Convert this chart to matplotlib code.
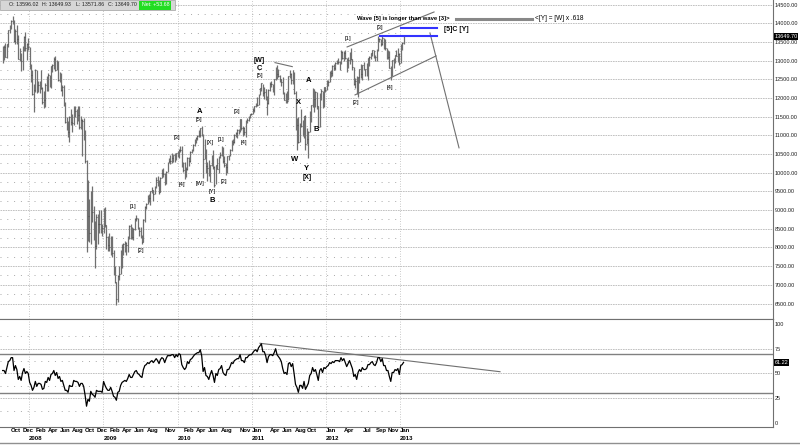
import matplotlib
matplotlib.use('Agg')
import matplotlib.pyplot as plt
import matplotlib.dates as mdates
from matplotlib.patches import Rectangle
from matplotlib.lines import Line2D
import numpy as np
import pandas as pd

plt.rcParams['font.family'] = ['Liberation Sans', 'DejaVu Sans']

# weekly bars (Friday), Aug 2007 - Jan 2013
weeks = pd.date_range('2007-08-24', '2013-01-18', freq='W-FRI')

high = [
    # 2007
    13400, 13420, 13480, 13460, 13830, 13950, 14100, 14198, 14100, 13850, 13950, 13700, 13350, 13210, 13400, 13650, 13760, 13470, 13600,
    # 2008
    13370, 12900, 12750, 12380, 12770, 12740, 12450, 12450, 12760, 12290, 12180, 12400, 12600, 12660, 12630, 12870, 12900,
    13100, 13140, 13030, 13000, 12700, 12680, 12350, 12350, 11890, 11490, 11390, 11520, 11700, 11580, 11780, 11800, 11720, 11790,
    11790, 11520, 11430, 11460, 11150, 10330, 9800, 9300, 9500, 9650, 9100, 8700, 8900, 8900, 9000, 9000, 8620,
    # 2009
    9050, 9090, 8600, 8300, 8380, 8300, 8310, 7930, 7500, 7070, 7250, 7500, 7930, 8080, 8110, 8180, 8140, 8300, 8610, 8630,
    8550, 8520, 8800, 8880, 8800, 8560, 8560, 8340, 8760, 9110, 9200, 9400, 9420, 9520, 9630, 9550, 9640, 9880, 9920, 9800,
    9880, 10100, 10120, 10000, 10050, 10300, 10400, 10480, 10520, 10480, 10520, 10530, 10590,
    # 2010
    10630, 10730, 10730, 10300, 10300, 10150, 10420, 10420, 10570, 10650, 10780, 10900, 10950, 11000, 11150, 11210, 11258,
    11030, 10900, 10640, 10300, 10350, 10220, 10480, 10600, 10170, 10200, 10400, 10440, 10550, 10720, 10700, 10440, 10250,
    10450, 10480, 10630, 10880, 10900, 11030, 11100, 11160, 11180, 11450, 11450, 11250, 11220, 11400, 11460, 11520, 11580, 11610,
    # 2011
    11740, 11800, 11880, 12020, 12100, 12280, 12400, 12390, 12290, 12230, 12050, 12230, 12420, 12450, 12390, 12520, 12820,
    12876, 12790, 12620, 12520, 12570, 12160, 12130, 12200, 12600, 12753, 12660, 12750, 12690, 12200, 11480, 11500, 11320,
    11720, 11400, 11520, 11540, 11200, 11130, 11650, 11810, 12280, 12230, 12180, 12170, 11800, 12130, 12230, 12200, 12300, 12300,
    # 2012
    12480, 12480, 12730, 12750, 12880, 12900, 12960, 13010, 13060, 12990, 13290, 13250, 13260, 13300, 13060, 13100, 13240,
    13338, 13040, 12840, 12530, 12580, 12560, 12770, 12900, 12890, 12970, 12790, 12950, 13080, 13120, 13210, 13300, 13290,
    13160, 13320, 13653, 13610, 13590, 13661, 13610, 13590, 13350, 13290, 13250, 12850, 13010, 13080, 13160, 13290, 13350, 13200,
    # 2013
    13450, 13500, 13650,
]

low = [
    12950, 13030, 13100, 13080, 13380, 13740, 13850, 13980, 13500, 13460, 13450, 13040, 12980, 12720, 12740, 13250, 13250, 13030, 13300,
    12780, 12440, 12080, 11630, 12150, 12130, 12170, 12140, 12250, 11850, 11730, 11760, 12200, 12200, 12300, 12270, 12700,
    12790, 12720, 12740, 12450, 12420, 12200, 12060, 11800, 11330, 11150, 10960, 10830, 11270, 11080, 11280, 11500, 11300, 11380,
    11180, 11170, 10460, 10880, 10270, 7880, 8180, 8150, 8100, 8690, 8200, 7450, 7960, 8100, 8400, 8400, 8300,
    8400, 8560, 7950, 7900, 7900, 7800, 7750, 7250, 7040, 6470, 6540, 7140, 7280, 7450, 7790, 7880, 7800, 7890, 8220, 8220,
    8240, 8210, 8480, 8700, 8490, 8300, 8260, 8090, 8150, 8690, 9020, 9160, 9230, 9130, 9470, 9250, 9420, 9600, 9650, 9430,
    9480, 9860, 9900, 9680, 9700, 10020, 10250, 10230, 10270, 10280, 10300, 10330, 10420,
    10400, 10560, 10150, 10030, 9830, 9900, 10080, 10180, 10300, 10520, 10580, 10710, 10810, 10880, 10970, 10950, 10990,
    9870, 10380, 10000, 9770, 9920, 9760, 10190, 10100, 9620, 9690, 10090, 9990, 10390, 10460, 10250, 10150, 9940,
    10000, 10330, 10450, 10580, 10750, 10800, 10950, 10930, 11050, 11100, 11150, 10980, 11000, 10970, 11320, 11390, 11460, 11540,
    11580, 11630, 11750, 11800, 11820, 12070, 12200, 12060, 11980, 11940, 11560, 11850, 12190, 12310, 12150, 12090, 12480,
    12500, 12570, 12440, 12330, 12110, 11940, 11860, 11880, 11940, 12550, 12380, 12380, 12110, 11140, 10600, 10800, 10820,
    11230, 10990, 10930, 10600, 10760, 10400, 11100, 11350, 11760, 11640, 11760, 11700, 11230, 11230, 11950, 11740, 11770, 12150,
    12220, 12320, 12420, 12560, 12580, 12740, 12740, 12920, 12920, 12740, 12910, 13050, 13000, 13040, 12710, 12800, 12920,
    13030, 12750, 12360, 12280, 12100, 12035, 12400, 12540, 12490, 12750, 12580, 12600, 12490, 12850, 13050, 13140, 13060,
    12990, 13000, 13250, 13500, 13400, 13420, 13320, 13300, 13050, 13050, 12800, 12471, 12590, 12800, 12940, 13120, 12960, 12880,
    12940, 13300, 13460,
]

close = [
    13378, 13358, 13113, 13442, 13820, 13896, 14066, 14093, 13522, 13806, 13595, 13042, 13176, 12980, 13372, 13625, 13339, 13450, 13366,
    12800, 12606, 12099, 12207, 12743, 12183, 12348, 12381, 12266, 11894, 11951, 12361, 12216, 12609, 12325, 12849, 12891,
    13058, 12745, 12986, 12480, 12638, 12209, 12307, 11843, 11347, 11288, 11100, 11496, 11370, 11326, 11734, 11659, 11628, 11543,
    11220, 11421, 11388, 11143, 10325, 8451, 8852, 8378, 9325, 8943, 8497, 8046, 8829, 8635, 8629, 8579, 8515,
    9034, 8599, 8281, 8077, 8001, 8280, 7850, 7366, 7063, 6627, 7224, 7279, 7776, 8018, 8083, 8131, 8076, 8212, 8575, 8268,
    8277, 8500, 8764, 8799, 8539, 8438, 8280, 8146, 8743, 9093, 9172, 9370, 9321, 9506, 9544, 9441, 9605, 9820, 9665, 9488,
    9865, 9996, 9972, 9713, 10023, 10270, 10319, 10310, 10389, 10471, 10329, 10520, 10428,
    10618, 10610, 10172, 10067, 10012, 10099, 10402, 10325, 10566, 10625, 10742, 10851, 10927, 10997, 11019, 11204, 11009,
    10380, 10620, 10193, 10137, 9931, 10212, 10450, 10144, 9686, 10198, 10098, 10425, 10466, 10653, 10303, 10214, 10150,
    10448, 10462, 10607, 10860, 10830, 11006, 11062, 11133, 11118, 11444, 11192, 11204, 11092, 11382, 11410, 11491, 11573, 11578,
    11675, 11787, 11871, 11824, 12092, 12273, 12391, 12130, 12169, 12044, 11859, 12221, 12376, 12380, 12342, 12505, 12811,
    12638, 12596, 12512, 12442, 12151, 11952, 12004, 11934, 12583, 12657, 12480, 12681, 12143, 11445, 11269, 10818, 11285,
    11240, 10992, 11509, 10771, 10913, 11103, 11644, 11809, 12231, 11983, 12153, 11796, 11231, 12019, 12184, 11866, 12294, 12218,
    12360, 12422, 12720, 12660, 12862, 12801, 12950, 12983, 12977, 12922, 13233, 13081, 13212, 13060, 12850, 13029, 13228,
    13038, 12821, 12369, 12454, 12119, 12554, 12767, 12640, 12880, 12772, 12777, 12822, 13075, 13096, 13207, 13275, 13158,
    13090, 13306, 13593, 13579, 13437, 13610, 13328, 13344, 13107, 13093, 12815, 12588, 13010, 13026, 13155, 13135, 13190, 12938,
    13435, 13488, 13649.70,
]

rsi = [
    53, 53, 50, 56, 62, 63, 66, 66, 53, 58, 54, 44, 47, 43, 51, 55, 50, 52, 50,
    41, 38, 33, 36, 42, 37, 40, 40, 39, 34, 35, 42, 41, 46, 43, 49, 50, 53, 48, 51, 45, 47, 42, 43, 38, 33,
    33, 31, 38, 37, 37, 43, 42, 42, 41, 37, 40, 40, 37, 28, 17, 24, 22, 32, 29, 28, 26, 33, 32, 32, 32, 31,
    42, 38, 35, 33, 33, 36, 32, 27, 26, 23, 31, 32, 38, 41, 42, 43, 42, 45, 49, 46, 46, 49, 52, 53, 50, 49,
    47, 46, 54, 58, 59, 61, 60, 62, 63, 61, 63, 65, 63, 60, 64, 66, 65, 61, 65, 68, 68, 68, 69, 69, 66, 69, 67,
    70, 69, 59, 56, 54, 56, 62, 60, 64, 65, 67, 69, 70, 71, 71, 74, 68, 52, 56, 48, 47, 44, 49, 53, 48,
    41, 50, 48, 54, 55, 58, 51, 49, 48, 54, 54, 57, 61, 60, 63, 64, 65, 65, 69, 63, 63, 61, 66, 66, 68, 69, 69,
    71, 73, 74, 72, 76, 78, 80, 72, 72, 68, 61, 67, 69, 69, 68, 71, 75, 69, 67, 65, 62, 55, 50, 51, 49,
    60, 61, 57, 60, 50, 39, 36, 31, 38, 38, 35, 42, 34, 37, 40, 48, 50, 56, 52, 54, 49, 43, 53, 55, 51, 56, 55,
    57, 58, 61, 60, 62, 61, 63, 63, 63, 62, 66, 63, 65, 61, 57, 60, 63, 59, 55, 47, 49, 44, 51, 54, 52, 56,
    54, 54, 55, 59, 59, 61, 62, 59, 58, 61, 66, 66, 62, 65, 58, 58, 53, 53, 47, 42, 51, 51, 54, 53, 55, 49,
    58, 59, 61.22,
]

price_ticks = [6500, 7000, 7500, 8000, 8500, 9000, 9500, 10000, 10500, 11000, 11500, 12000, 12500, 13000, 13500, 14000, 14500]
rsi_ticks = [0, 25, 50, 75, 100]
month_labels = [
    ('2007-10-01', 'Oct'), ('2007-12-01', 'Dec'), ('2008-02-01', 'Feb'), ('2008-04-01', 'Apr'), ('2008-06-01', 'Jun'),
    ('2008-08-01', 'Aug'), ('2008-10-01', 'Oct'), ('2008-12-01', 'Dec'), ('2009-02-01', 'Feb'), ('2009-04-01', 'Apr'),
    ('2009-06-01', 'Jun'), ('2009-08-01', 'Aug'), ('2009-11-01', 'Nov'), ('2010-02-01', 'Feb'), ('2010-04-01', 'Apr'),
    ('2010-06-01', 'Jun'), ('2010-08-01', 'Aug'), ('2010-11-01', 'Nov'), ('2011-01-01', 'Jan'), ('2011-04-01', 'Apr'),
    ('2011-06-01', 'Jun'), ('2011-08-01', 'Aug'), ('2011-10-01', 'Oct'), ('2012-01-01', 'Jan'), ('2012-04-01', 'Apr'),
    ('2012-07-01', 'Jul'), ('2012-09-01', 'Sep'), ('2012-11-01', 'Nov'), ('2013-01-01', 'Jan'),
]
years = ['2008', '2009', '2010', '2011', '2012', '2013']

# wave labels: text, date, price, size, bold
waves = [
    ('[1]', '2009-05-27', 9090, 4.2, False), ('[2]', '2009-07-04', 7920, 4.2, False),
    ('[3]', '2009-12-30', 10935, 4.2, False), ('[4]', '2010-01-22', 9690, 4.2, False),
    ('A', '2010-04-18', 11640, 5.5, True), ('[5]', '2010-04-18', 11436, 4.2, False),
    ('[W]', '2010-04-22', 9724, 4.2, False), ('[X]', '2010-06-10', 10810, 4.2, False),
    ('[Y]', '2010-06-19', 9500, 4.2, False), ('B', '2010-06-21', 9259, 5.5, True),
    ('[1]', '2010-08-02', 10883, 4.2, False), ('[2]', '2010-08-18', 9778, 4.2, False),
    ('[3]', '2010-10-20', 11639, 4.2, False), ('[4]', '2010-11-26', 10810, 4.2, False),
    ('[W]', '2011-02-08', 12995, 5.0, True), ('C', '2011-02-08', 12781, 5.5, True),
    ('[5]', '2011-02-11', 12594, 4.2, False), ('X', '2011-08-22', 11890, 5.5, True),
    ('W', '2011-07-30', 10344, 5.5, True), ('A', '2011-10-10', 12460, 5.5, True),
    ('Y', '2011-09-26', 10115, 5.5, True), ('[X]', '2011-10-02', 9875, 5.0, True),
    ('B', '2011-11-13', 11150, 5.5, True), ('[1]', '2012-04-21', 13602, 4.2, False),
    ('[2]', '2012-05-28', 11880, 4.2, False), ('[3]', '2012-09-22', 13890, 4.2, False),
    ('[4]', '2012-11-13', 12286, 4.2, False),
]


def d(s):
    return mdates.date2num(pd.Timestamp(s))


x = mdates.date2num(weeks)
W, H = 800, 447
fig = plt.figure(figsize=(8, 4.47), dpi=100)
ax = fig.add_axes([0, 1 - 319 / H, 773 / W, 319 / H])
ax2 = fig.add_axes([0, 1 - 427 / H, 773 / W, 108 / H], sharex=ax)

xmin, xmax = d('2007-08-11'), d('2018-01-11')
ax.set_xlim(xmin, xmax)
ax.set_ylim(6085, 14626)
ax2.set_ylim(-4, 105)
grid_end = d('2013-01-01')

# grid
for p in price_ticks:
    ax.axhline(p, color='#b8b8b8', lw=0.6, ls=(0, (2, 1)), zorder=0)
for p in np.arange(6750, 14500, 500):
    ax.hlines(p, xmin, grid_end, color='#a8a8a8', lw=0.7, ls=(0, (1, 6)), zorder=0)
for v in (25, 50, 75):
    ax2.axhline(v, color='#b8b8b8', lw=0.6, ls=(0, (2, 1)), zorder=0)
for v in (12.5, 37.5, 62.5, 87.5):
    ax2.hlines(v, xmin, grid_end, color='#a8a8a8', lw=0.7, ls=(0, (1, 6)), zorder=0)
for y in years:
    for a in (ax, ax2):
        a.axvline(d(y + '-01-01'), color='#b8b8b8', lw=0.6, ls=(0, (1, 2)), zorder=0)

# price bars
ax.vlines(x, low, high, color='#707070', lw=0.9, zorder=2)
ax.hlines(close, x, x + 3.5, color='#505050', lw=0.8, zorder=2)

# wave labels
for s, dt, p, fs, b in waves:
    ax.text(d(dt), p, s, ha='center', va='center', fontsize=fs,
            fontweight='bold' if b else 'normal', color='black', zorder=4)

# trend lines and channel
gray = '#707070'
ax.plot([d('2011-04-26'), d('2011-07-20')], [12949, 12842], color=gray, lw=0.8)
ax.plot([d('2012-04-15'), d('2013-06-17')], [13369, 14305], color=gray, lw=0.8)
ax.plot([d('2012-05-24'), d('2013-06-27')], [12085, 13128], color=gray, lw=0.8)
ax.plot([d('2013-05-28'), d('2013-10-18')], [13743, 10668], color=gray, lw=0.8)
ax.plot([d('2012-09-24'), d('2013-07-02')], [13661, 13661], color='#3333ff', lw=1.5)
ax.plot([d('2013-01-06'), d('2013-07-02')], [13885, 13885], color='#3333ff', lw=1.5)
ax.plot([d('2013-10-04'), d('2014-10-13')], [14118, 14118], color='#888888', lw=2.2)
ax.text(d('2012-06-02'), 14118, 'Wave [5] is longer than wave [3]>', fontsize=4.2,
        fontweight='bold', ha='left', va='center')
ax.text(d('2014-10-28'), 14118, '<[Y] = [W] x .618', fontsize=4.7, ha='left', va='center')
ax.text(d('2013-08-05'), 13823, '[5]C [Y]', fontsize=5, fontweight='bold', ha='left', va='center')

# RSI panel
ax2.plot(x, rsi, color='black', lw=0.9, zorder=3)
ax2.axhline(70, color='#808080', lw=1.0)
ax2.axhline(30, color='#808080', lw=1.0)
ax2.plot([d('2011-02-11'), d('2014-05-08')], [80.5, 51.8], color=gray, lw=0.8)

# axes styling
for a in (ax, ax2):
    a.yaxis.tick_right()
    a.tick_params(axis='y', length=0, pad=1.5, labelsize=4.0, labelcolor='#202020')
    a.tick_params(axis='x', bottom=False, labelbottom=False)
    a.spines['left'].set_visible(False)
    for sp in ('right', 'bottom', 'top'):
        a.spines[sp].set_color('#707070')
        a.spines[sp].set_linewidth(0.8)
ax.spines['top'].set_visible(False)
ax.set_yticks(price_ticks)
ax.set_yticklabels([f'{p:.2f}' for p in price_ticks])
ax2.set_yticks(rsi_ticks)
ax2.set_yticklabels([str(v) for v in rsi_ticks])

# last value boxes
ax.text(1.002, close[-1], f'{close[-1]:.2f}', transform=ax.get_yaxis_transform(), fontsize=4.0,
        color='white', ha='left', va='center', bbox=dict(fc='black', ec='none', pad=0.5))
ax2.text(1.002, rsi[-1], f'{rsi[-1]:.2f}', transform=ax2.get_yaxis_transform(), fontsize=4.0,
         color='white', ha='left', va='center', bbox=dict(fc='black', ec='none', pad=0.5))

# date labels
tr = ax2.get_xaxis_transform()
for dt, s in month_labels:
    ax2.text(d(dt), -0.034, s, transform=tr, fontsize=4.3, fontweight='bold', ha='left', va='center')
for y in years:
    ax2.text(d(y + '-01-01'), -0.105, y, transform=tr, fontsize=4.3, fontweight='bold', ha='left', va='center')
fig.add_artist(Line2D([0, 1], [1 - 443 / H, 1 - 443 / H], transform=fig.transFigure, color='#909090', lw=1))

# header strip
fig.add_artist(Rectangle((0, 1 - 10 / H), 175 / W, 10 / H, transform=fig.transFigure,
                         fc='#d6d6d6', ec='#a0a0a0', lw=0.5))
fig.add_artist(Rectangle((139 / W, 1 - 9.5 / H), 32 / W, 9 / H, transform=fig.transFigure,
                         fc='#22dd22', ec='none'))
for s, px in [('O: 13596.02', 9), ('H: 13649.93', 42), ('L: 13571.86', 76), ('C: 13649.70', 108)]:
    fig.text(px / W, 1 - 5 / H, s, fontsize=3.8, ha='left', va='center', color='#202020')
fig.text(142 / W, 1 - 5 / H, 'Net: +53.68', fontsize=3.8, ha='left', va='center', color='white')

fig.savefig('out.png', dpi=100)
